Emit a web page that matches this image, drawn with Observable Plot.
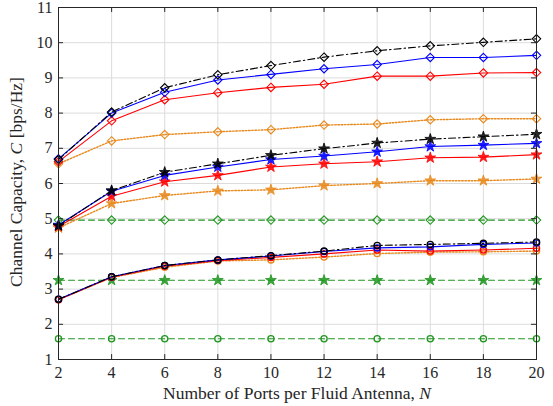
<!DOCTYPE html>
<html><head><meta charset="utf-8">
<script src="https://cdn.jsdelivr.net/npm/d3@7"></script>
<script src="https://cdn.jsdelivr.net/npm/@observablehq/plot@0.6"></script>
<style>body{margin:0;background:#fff;}</style>
</head><body><div id="chart"></div>
<script>
const N = [2,4,6,8,10,12,14,16,18,20];
const xTicks = [2,4,6,8,10,12,14,16,18,20];
const yTicks = [1,2,3,4,5,6,7,8,9,10,11];
// diamond group
const dBlack  = [6.68,8.03,8.72,9.09,9.35,9.59,9.77,9.91,10.01,10.11];
const dBlue   = [6.70,8.00,8.59,8.94,9.10,9.26,9.38,9.58,9.58,9.64];
const dRed    = [6.62,7.78,8.38,8.58,8.73,8.82,9.05,9.05,9.14,9.15];
const dOrange = [6.56,7.21,7.39,7.47,7.53,7.66,7.69,7.81,7.84,7.84];
const dGreen  = [4.96,4.96,4.96,4.96,4.96,4.96,4.96,4.96,4.96,4.96];
// star group
const sBlack  = [4.80,5.80,6.32,6.56,6.80,6.99,7.15,7.26,7.33,7.40];
const sBlue   = [4.82,5.78,6.23,6.47,6.68,6.78,6.90,7.05,7.09,7.14];
const sRed    = [4.78,5.64,6.05,6.23,6.47,6.56,6.62,6.73,6.75,6.82];
const sOrange = [4.74,5.43,5.66,5.79,5.82,5.94,6.00,6.08,6.08,6.13];
const sGreen  = [3.25,3.25,3.25,3.25,3.25,3.25,3.25,3.25,3.25,3.25];
// circle group
const cBlack  = [2.71,3.35,3.67,3.83,3.95,4.08,4.24,4.27,4.30,4.34];
const cBlue   = [2.71,3.35,3.67,3.83,3.94,4.07,4.17,4.20,4.27,4.31];
const cRed    = [2.70,3.34,3.65,3.81,3.90,4.00,4.11,4.08,4.11,4.16];
const cOrange = [2.70,3.33,3.62,3.80,3.83,3.91,4.01,4.05,4.06,4.08];
const cGreen  = [1.59,1.59,1.59,1.59,1.59,1.59,1.59,1.59,1.59,1.59];

const FONT = "Liberation Serif, DejaVu Serif, serif";
const styles = {
  black:  {color:"#000000", dash:"7,3,1.5,3", w:1.1},
  blue:   {color:"#0000ff", dash:null, w:1.1},
  red:    {color:"#ff0000", dash:null, w:1.1},
  orange: {color:"#e8891c", dash:"1.6,1.6", w:1.4},
  green:  {color:"#1f961f", dash:"6,4", w:1.1}
};
const series = [
  {v:dGreen, s:"green", m:"diamond"}, {v:sGreen, s:"green", m:"star"}, {v:cGreen, s:"green", m:"circle"},
  {v:dOrange, s:"orange", m:"diamond"}, {v:sOrange, s:"orange", m:"star"}, {v:cOrange, s:"orange", m:"circle"},
  {v:dRed, s:"red", m:"diamond"}, {v:sRed, s:"red", m:"star"}, {v:cRed, s:"red", m:"circle"},
  {v:dBlue, s:"blue", m:"diamond"}, {v:sBlue, s:"blue", m:"star"}, {v:cBlue, s:"blue", m:"circle"},
  {v:dBlack, s:"black", m:"diamond"}, {v:sBlack, s:"black", m:"star"}, {v:cBlack, s:"black", m:"circle"}
];
const marks = [
  Plot.gridX(xTicks, {stroke:"#dcdcdc", strokeOpacity:1, strokeWidth:1}),
  Plot.gridY(yTicks, {stroke:"#dcdcdc", strokeOpacity:1, strokeWidth:1})
];
for (const sr of series) {
  const st = styles[sr.s];
  const data = N.map((x,i)=>({x, y:sr.v[i]}));
  marks.push(Plot.line(data, {x:"x", y:"y", stroke:st.color, strokeWidth:st.w, strokeDasharray:st.dash}));
  if (sr.m === "diamond") {
    marks.push(Plot.dot(data, {x:"x", y:"y", symbol:"diamond2", r:3.8, stroke:st.color, strokeWidth:1.1, fill:"none"}));
  } else if (sr.m === "star") {
    marks.push(Plot.dot(data, {x:"x", y:"y", symbol:"star", r:3.4, stroke:st.color, strokeWidth:0.8, fill:st.color, fillOpacity:0.85}));
  } else {
    marks.push(Plot.dot(data, {x:"x", y:"y", symbol:"circle", r:3.1, stroke:st.color, strokeWidth:1.3, fill:"none"}));
  }
}
marks.push(
  Plot.ruleX(xTicks, {y1:1, y2:1.14, stroke:"#262626"}),
  Plot.ruleX(xTicks, {y1:11, y2:10.86, stroke:"#262626"}),
  Plot.ruleY(yTicks, {x1:2, x2:2.19, stroke:"#262626"}),
  Plot.ruleY(yTicks, {x1:20, x2:19.81, stroke:"#262626"}),
  Plot.frame({stroke:"#262626", strokeWidth:1}),
  Plot.axisX(xTicks, {tickSize:0, tickPadding:7, fontSize:16, label:null, color:"#262626", tickFormat:d=>d}),
  Plot.axisY(yTicks, {tickSize:0, tickPadding:6, fontSize:16, label:null, color:"#262626", tickFormat:d=>d})
);
const chart = Plot.plot({
  width:553, height:406,
  marginLeft:58, marginRight:17, marginTop:7, marginBottom:47,
  x:{domain:[2,20], type:"linear"},
  y:{domain:[1,11], type:"linear"},
  style:{background:"#fff"},
  marks
});
document.getElementById("chart").appendChild(chart);
const svg = d3.select(chart);
const xl = svg.append("text").attr("x", (58+536)/2).attr("y", 399).attr("text-anchor","middle")
  .attr("font-size",17.5).attr("fill","#262626");
xl.append("tspan").text("Number of Ports per Fluid Antenna, ");
xl.append("tspan").attr("font-style","italic").text("N");
const yl = svg.append("text").attr("transform","translate(22,182) rotate(-90)").attr("text-anchor","middle")
  .attr("font-size",17.5).attr("fill","#262626");
yl.append("tspan").text("Channel Capacity, ");
yl.append("tspan").attr("font-style","italic").text("C");
yl.append("tspan").text(" [bps/Hz]");
svg.attr("font-family", FONT).style("font-family", FONT);
svg.selectAll("text").attr("font-family", FONT).style("font-family", FONT);
</script></body></html>
